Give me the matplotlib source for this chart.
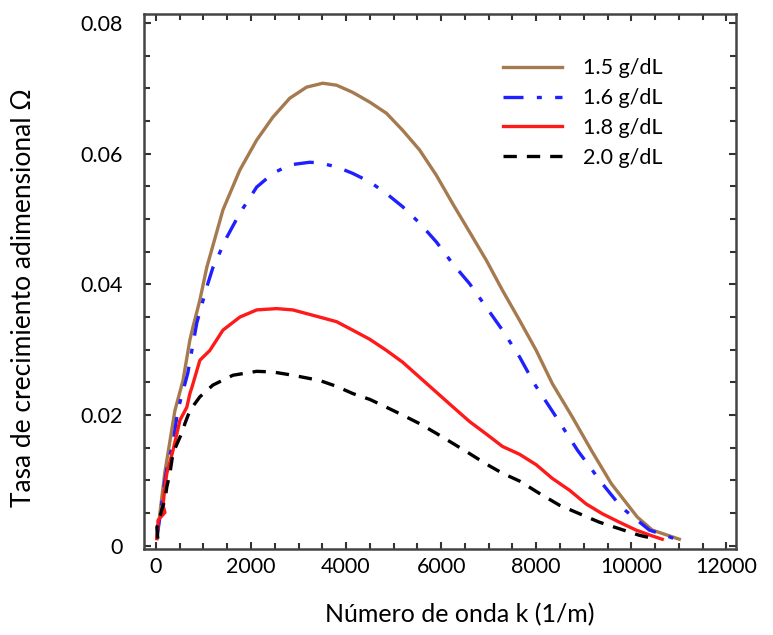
import matplotlib
matplotlib.use("Agg")
import matplotlib.pyplot as plt
from matplotlib.ticker import MultipleLocator

plt.rcParams['font.family'] = ['Lato', 'DejaVu Sans']

# Wave number k (1/m) and growth rate
k_15 = [20, 190, 400, 570, 715, 780, 925, 1070, 1410, 1765, 2120, 2460, 2815, 3170,
        3510, 3800, 4140, 4500, 4850, 5190, 5545, 5900, 6240, 6600, 6950, 7290,
        7650, 8000, 8340, 8760, 9160, 9580, 10125, 10440, 11010]
w_15 = [0.0011, 0.0113, 0.0207, 0.0253, 0.0315, 0.0335, 0.0376, 0.0426, 0.0514,
        0.0575, 0.0621, 0.0656, 0.0685, 0.0702, 0.0708, 0.0705, 0.0694, 0.0679,
        0.0662, 0.0636, 0.0606, 0.0567, 0.0524, 0.0480, 0.0437, 0.0391, 0.0345,
        0.0299, 0.0248, 0.0197, 0.0146, 0.0095, 0.0044, 0.0024, 0.0010]

k_16 = [20, 190, 250, 360, 460, 670, 860, 1070, 1200, 1490, 1765, 2120, 2460, 2815,
        3235, 3445, 3800, 4140, 4500, 4850, 5190, 5545, 5900, 6240, 6600, 6950,
        7290, 7650, 7960, 8420, 8870, 9390, 9790, 10380, 10945]
w_16 = [0.0011, 0.0100, 0.0126, 0.0157, 0.0207, 0.0264, 0.0341, 0.0396, 0.0426,
        0.0472, 0.0509, 0.0549, 0.0570, 0.0583, 0.0587, 0.0586, 0.0580, 0.0570,
        0.0557, 0.0539, 0.0519, 0.0494, 0.0465, 0.0432, 0.0401, 0.0365, 0.0330,
        0.0289, 0.0248, 0.0197, 0.0146, 0.0095, 0.0059, 0.0024, 0.0010]

k_18 = [20, 40, 45, 190, 150, 190, 230, 360, 505, 650, 715, 760, 925, 1135, 1410,
        1765, 2120, 2540, 2880, 3445, 3800, 4140, 4500, 4850, 5190, 5545, 5900,
        6240, 6600, 6950, 7290, 7650, 8000, 8340, 8700, 9050, 9390, 9750, 10100,
        10440, 10650]
w_18 = [0.0011, 0.0028, 0.0039, 0.0051, 0.0062, 0.0090, 0.0111, 0.0146, 0.0192,
        0.0212, 0.0233, 0.0243, 0.0284, 0.0299, 0.0330, 0.0350, 0.0361, 0.0363,
        0.0361, 0.0350, 0.0343, 0.0330, 0.0316, 0.0299, 0.0281, 0.0258, 0.0235,
        0.0213, 0.0190, 0.0171, 0.0152, 0.0140, 0.0124, 0.0103, 0.0085, 0.0064,
        0.0049, 0.0036, 0.0024, 0.0015, 0.0010]

k_20 = [40, 20, 85, 130, 190, 230, 295, 360, 505, 570, 610, 715, 925, 1200, 1620,
        2120, 2460, 2880, 3445, 3800, 4140, 4500, 4850, 5190, 5545, 5900, 6240,
        6600, 6950, 7290, 7650, 8070, 8490, 8910, 9330, 9750, 10170, 10525]
w_20 = [0.0011, 0.0028, 0.0044, 0.0057, 0.0070, 0.0090, 0.0111, 0.0142, 0.0166,
        0.0177, 0.0187, 0.0207, 0.0228, 0.0246, 0.0261, 0.0267, 0.0266, 0.0261,
        0.0253, 0.0244, 0.0233, 0.0224, 0.0212, 0.0200, 0.0187, 0.0172, 0.0157,
        0.0141, 0.0125, 0.0111, 0.0099, 0.0080, 0.0062, 0.0049, 0.0036, 0.0026,
        0.0016, 0.0010]

labels = ["1.5 g/dL", "1.6 g/dL", "1.8 g/dL", "2.0 g/dL"]

fig = plt.figure(figsize=(7.73, 6.35), dpi=100)
ax = fig.add_axes([0.1863, 0.1354, 0.7657, 0.8426])

ax.plot(k_15, w_15, color='#A47A4E', lw=2.4, label=labels[0])
ax.plot(k_16, w_16, color='#1F1FFF', lw=2.4, dashes=(6, 4, 1.5, 4), label=labels[1])
ax.plot(k_18, w_18, color='#FF1A1A', lw=2.4, label=labels[2])
ax.plot(k_20, w_20, color='black', lw=2.4, dashes=(4, 3), label=labels[3])

ax.set_xlim(-250, 12200)
ax.set_ylim(-0.0005, 0.0814)
ax.set_xticks([0, 2000, 4000, 6000, 8000, 10000, 12000])
ax.set_xticklabels(['0', '2000', '4000', '6000', '8000', '10000', '12000'])
ax.set_yticks([0, 0.02, 0.04, 0.06, 0.08])
ax.set_yticklabels(['0', '0.02', '0.04', '0.06', '0.08'])
ax.xaxis.set_minor_locator(MultipleLocator(500))
ax.yaxis.set_minor_locator(MultipleLocator(0.005))
ax.tick_params(which='both', direction='in', top=True, right=True,
               width=1.5, color='#333333', labelsize=15.5)
ax.tick_params(axis='x', pad=6)
ax.tick_params(axis='y', pad=15)
ax.tick_params(which='major', length=5)
ax.tick_params(which='minor', length=4)
for s in ax.spines.values():
    s.set_linewidth(1.8)
    s.set_color('#444444')

ax.set_xlabel("Número de onda k (1/m)", fontsize=18)
ax.set_ylabel("Tasa de crecimiento adimensional Ω", fontsize=19)
ax.xaxis.set_label_coords(0.534, -0.10)
ax.yaxis.set_label_coords(-0.182, 0.47)

ax.legend(loc='upper left', bbox_to_anchor=(0.589, 0.937), frameon=False,
          borderpad=0, fontsize=15.5, handlelength=2.7, handletextpad=1.0,
          labelspacing=0.45)

fig.savefig("out.png", dpi=100)
